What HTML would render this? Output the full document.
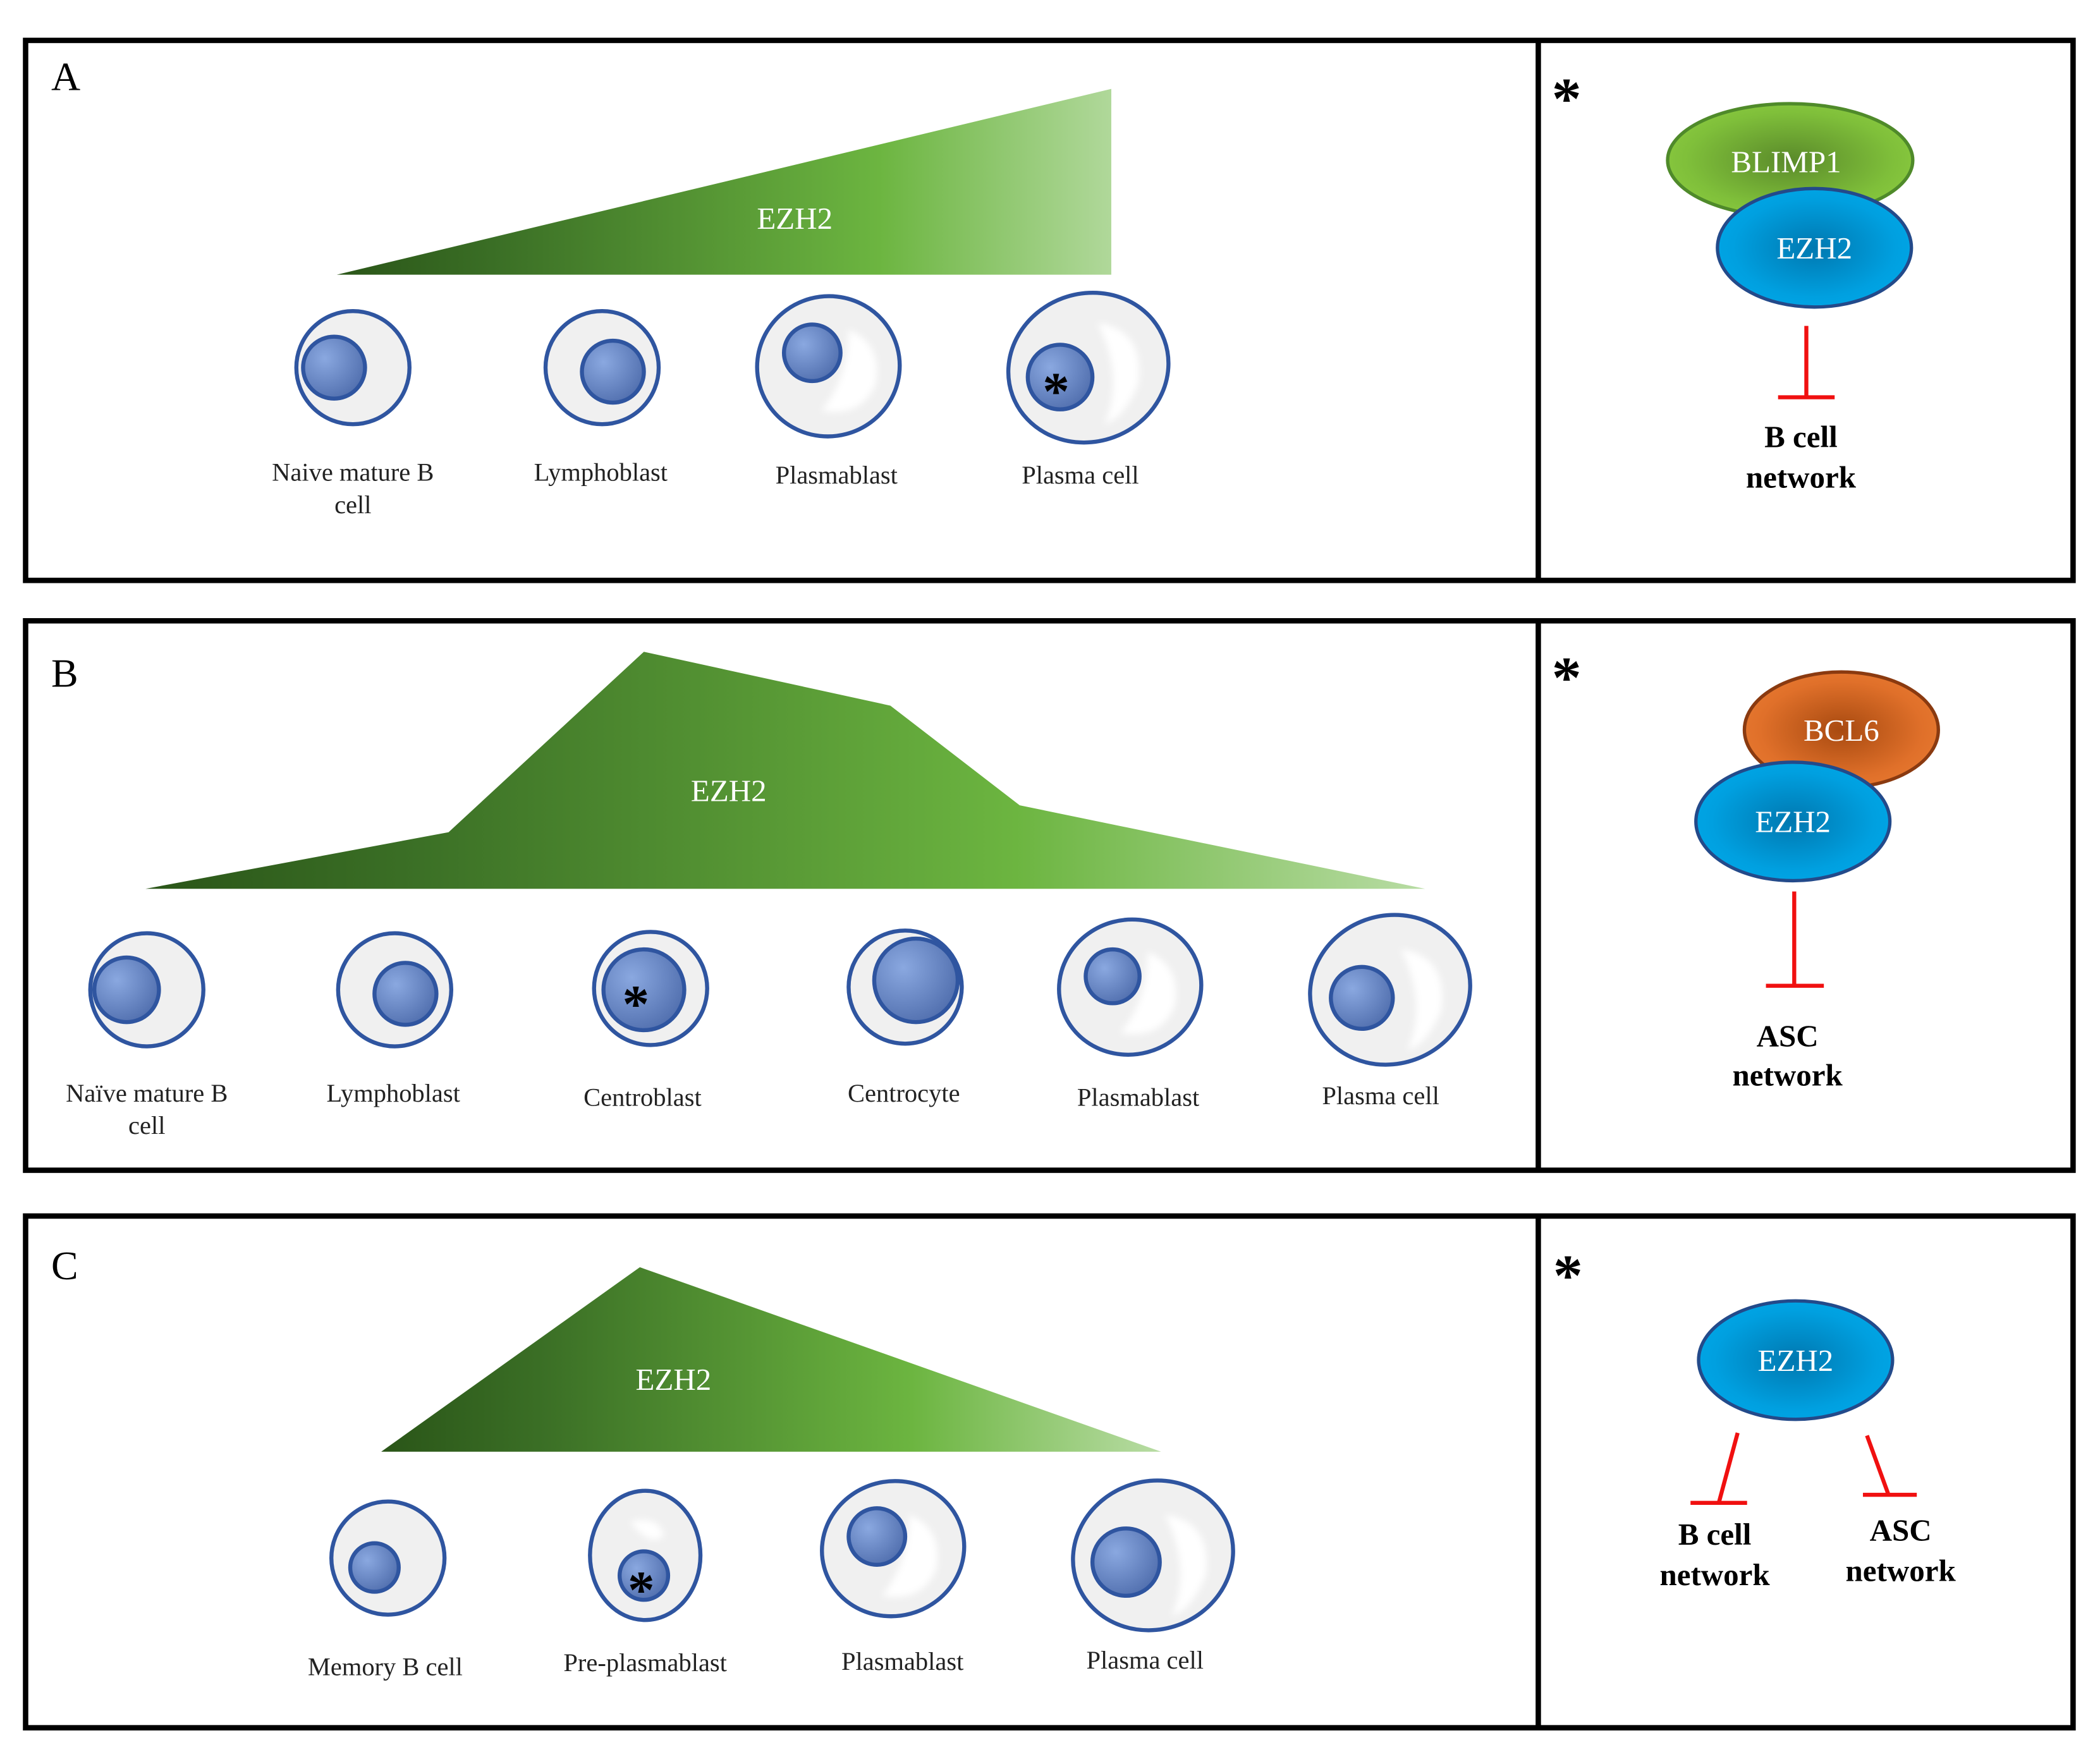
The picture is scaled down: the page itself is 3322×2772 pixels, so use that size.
<!DOCTYPE html>
<html><head><meta charset="utf-8"><style>
html,body{margin:0;padding:0;background:#fff;}
svg{display:block;}
text{font-family:"Liberation Serif",serif;}
</style></head><body>
<svg width="3322" height="2772" viewBox="0 0 1559 1301" preserveAspectRatio="none" xmlns="http://www.w3.org/2000/svg">
<defs>
<linearGradient id="gA" x1="0" x2="1" y1="0" y2="0"><stop offset="0" stop-color="#2a5518"/><stop offset="0.2" stop-color="#3a6e25"/><stop offset="0.7" stop-color="#6cb540"/><stop offset="1" stop-color="#b0d89a"/></linearGradient>
<linearGradient id="gB" x1="0" x2="1" y1="0" y2="0"><stop offset="0" stop-color="#2a5518"/><stop offset="0.2" stop-color="#3a6e25"/><stop offset="0.68" stop-color="#6cb540"/><stop offset="1" stop-color="#b8dca4"/></linearGradient>
<radialGradient id="nuc" cx="0.35" cy="0.35" r="0.8"><stop offset="0" stop-color="#8aa8e0"/><stop offset="1" stop-color="#4a68a8"/></radialGradient>
<radialGradient id="blue" cx="0.5" cy="0.5" r="0.6"><stop offset="0" stop-color="#0078b0"/><stop offset="0.7" stop-color="#00a0e0"/><stop offset="1" stop-color="#00a8e8"/></radialGradient>
<radialGradient id="green" cx="0.5" cy="0.5" r="0.6"><stop offset="0" stop-color="#5a8a2a"/><stop offset="0.7" stop-color="#7fbf3a"/><stop offset="1" stop-color="#8ccc40"/></radialGradient>
<radialGradient id="orange" cx="0.5" cy="0.5" r="0.6"><stop offset="0" stop-color="#a84a10"/><stop offset="0.7" stop-color="#e0702a"/><stop offset="1" stop-color="#e87a30"/></radialGradient>
<filter id="bl"><feGaussianBlur stdDeviation="2.5"/></filter>
</defs>
<g fill="none" stroke="#000" stroke-width="4">
<rect x="19" y="30" width="1520" height="401"/><line x1="1142" y1="30" x2="1142" y2="431"/>
<rect x="19" y="461" width="1520" height="408"/><line x1="1142" y1="461" x2="1142" y2="869"/>
<rect x="19" y="903" width="1520" height="380"/><line x1="1142" y1="903" x2="1142" y2="1283"/>
</g>
<text x="38" y="67" font-size="30">A</text>
<text x="38" y="510" font-size="30">B</text>
<text x="38" y="950" font-size="30">C</text>
<g font-size="44" font-weight="bold" font-family="Liberation Sans,sans-serif"><text x="1152" y="88">*</text><text x="1152" y="518">*</text><text x="1153" y="962">*</text></g>

<polygon points="250,204 825,66 825,204" fill="url(#gA)"/>
<polygon points="108,660 333,618 478,484 661,524 757,598 1058,660" fill="url(#gB)"/>
<polygon points="283,1078 475,941 862,1078" fill="url(#gB)"/>
<g fill="#fff" font-size="23" text-anchor="middle"><text x="590" y="170">EZH2</text><text x="541" y="595">EZH2</text><text x="500" y="1032">EZH2</text></g>

<g stroke="#2f55a0" stroke-width="3">
<!-- A -->
<circle cx="262" cy="273" r="42" fill="#f0f0f0"/><circle cx="248" cy="273" r="23" fill="url(#nuc)"/>
<circle cx="447" cy="273" r="42" fill="#f0f0f0"/><circle cx="455" cy="276" r="23" fill="url(#nuc)"/>
<ellipse cx="615" cy="272" rx="53" ry="52" fill="#f0f0f0" transform="rotate(-15 615 272)"/>
<ellipse cx="808" cy="273" rx="60" ry="55" fill="#f0f0f0" transform="rotate(-20 808 273)"/>
<!-- B -->
<circle cx="109" cy="735" r="42" fill="#f0f0f0"/><circle cx="94" cy="735" r="24" fill="url(#nuc)"/>
<circle cx="293" cy="735" r="42" fill="#f0f0f0"/><circle cx="301" cy="738" r="23" fill="url(#nuc)"/>
<circle cx="483" cy="734" r="42" fill="#f0f0f0"/>
<circle cx="672" cy="733" r="42" fill="#f0f0f0"/>
<ellipse cx="839" cy="733" rx="53" ry="50" fill="#f0f0f0" transform="rotate(-15 839 733)"/>
<ellipse cx="1032" cy="735" rx="60" ry="55" fill="#f0f0f0" transform="rotate(-20 1032 735)"/>
<!-- C -->
<circle cx="288" cy="1157" r="42" fill="#f0f0f0"/><circle cx="278" cy="1164" r="18" fill="url(#nuc)"/>
<ellipse cx="479" cy="1155" rx="41" ry="48" fill="#f0f0f0"/>
<ellipse cx="663" cy="1150" rx="53" ry="50" fill="#f0f0f0" transform="rotate(-15 663 1150)"/>
<ellipse cx="856" cy="1155" rx="60" ry="55" fill="#f0f0f0" transform="rotate(-20 856 1155)"/>
</g>
<g fill="#fff" filter="url(#bl)">
<path d="M630 245 q25 10 20 40 q-10 25 -40 20 q20 -25 20 -60z"/>
<path d="M815 240 q35 5 30 45 q-10 25 -25 30 q15 -35 -5 -75z"/>
<path d="M852 707 q25 10 20 40 q-10 25 -40 20 q20 -25 20 -60z"/>
<path d="M1040 705 q35 5 30 45 q-10 25 -25 30 q15 -35 -5 -75z"/>
<path d="M468 1130 q20 -5 25 10 q-10 10 -25 -10z"/>
<path d="M675 1125 q25 10 20 40 q-10 25 -40 20 q20 -25 20 -60z"/>
<path d="M865 1125 q35 5 30 45 q-10 25 -25 30 q15 -35 -5 -75z"/>
</g>
<g stroke="#2f55a0" stroke-width="3" fill="url(#nuc)">
<circle cx="603" cy="262" r="21"/>
<circle cx="787" cy="280" r="24"/>
<circle cx="478" cy="735" r="30"/>
<circle cx="680" cy="728" r="31"/>
<circle cx="826" cy="725" r="20"/>
<circle cx="1011" cy="741" r="23"/>
<circle cx="478" cy="1170" r="18"/>
<circle cx="651" cy="1141" r="21"/>
<circle cx="836" cy="1160" r="25"/>
</g>
<g font-size="40" font-weight="bold" font-family="Liberation Sans,sans-serif" text-anchor="middle">
<text x="784" y="304">*</text><text x="472" y="759">*</text><text x="476" y="1194">*</text>
</g>

<g font-size="19" text-anchor="middle" fill="#222">
<text x="262" y="357">Naive mature B</text><text x="262" y="381">cell</text>
<text x="446" y="357">Lymphoblast</text><text x="621" y="359">Plasmablast</text><text x="802" y="359">Plasma cell</text>
<text x="109" y="818">Naïve mature B</text><text x="109" y="842">cell</text>
<text x="292" y="818">Lymphoblast</text><text x="477" y="821">Centroblast</text><text x="671" y="818">Centrocyte</text>
<text x="845" y="821">Plasmablast</text><text x="1025" y="820">Plasma cell</text>
<text x="286" y="1244">Memory B cell</text><text x="479" y="1241">Pre-plasmablast</text>
<text x="670" y="1240">Plasmablast</text><text x="850" y="1239">Plasma cell</text>
</g>

<ellipse cx="1329" cy="119" rx="91" ry="42" fill="url(#green)" stroke="#4f8a2a" stroke-width="2.5"/>
<ellipse cx="1347" cy="184" rx="72" ry="44" fill="url(#blue)" stroke="#234a8a" stroke-width="2.5"/>
<ellipse cx="1367" cy="542" rx="72" ry="43" fill="url(#orange)" stroke="#8a3a10" stroke-width="2.5"/>
<ellipse cx="1331" cy="610" rx="72" ry="44" fill="url(#blue)" stroke="#234a8a" stroke-width="2.5"/>
<ellipse cx="1333" cy="1010" rx="72" ry="44" fill="url(#blue)" stroke="#234a8a" stroke-width="2.5"/>
<g fill="#fff" font-size="23" text-anchor="middle">
<text x="1326" y="128">BLIMP1</text><text x="1347" y="192">EZH2</text>
<text x="1367" y="550">BCL6</text><text x="1331" y="618">EZH2</text><text x="1333" y="1018">EZH2</text>
</g>
<g stroke="#f01010" stroke-width="3" fill="none">
<line x1="1341" y1="242" x2="1341" y2="295"/><line x1="1320" y1="295" x2="1362" y2="295"/>
<line x1="1332" y1="662" x2="1332" y2="732"/><line x1="1311" y1="732" x2="1354" y2="732"/>
<line x1="1290" y1="1064" x2="1276" y2="1116"/><line x1="1255" y1="1116" x2="1297" y2="1116"/>
<line x1="1386" y1="1066" x2="1402" y2="1110"/><line x1="1383" y1="1110" x2="1423" y2="1110"/>
</g>
<g font-size="23" font-weight="bold" text-anchor="middle">
<text x="1337" y="332">B cell</text><text x="1337" y="362">network</text>
<text x="1327" y="777">ASC</text><text x="1327" y="806">network</text>
<text x="1273" y="1147">B cell</text><text x="1273" y="1177">network</text>
<text x="1411" y="1144">ASC</text><text x="1411" y="1174">network</text>
</g>
</svg>
</body></html>
